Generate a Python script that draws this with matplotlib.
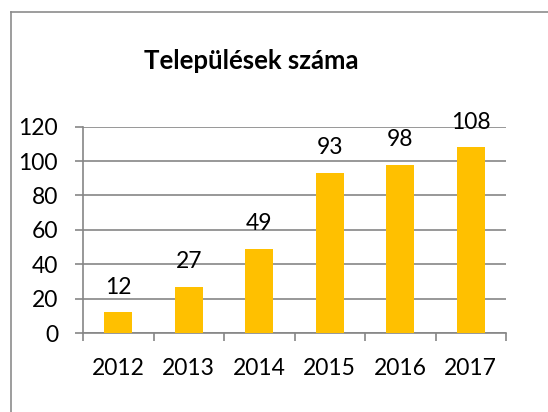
import numpy as np
import matplotlib.pyplot as plt
from matplotlib.lines import Line2D

years = ['2012', '2013', '2014', '2015', '2016', '2017']
values = [12, 27, 49, 93, 98, 108]
title = 'Települések száma'

plt.rcParams['font.family'] = ['Lato', 'DejaVu Sans']

fig = plt.figure(figsize=(5.48, 4.12), dpi=100)
ax = fig.add_axes([0.1515, 0.1917, 0.9234 - 0.1515, 0.6925 - 0.1917])

grid_c = '#868686'
x = np.arange(len(years))
bars = ax.bar(x, values, width=0.4, color='#FFC000', zorder=3)

for xi, v in zip(x, values):
    ax.annotate(str(v), (xi, v), xytext=(0, 13.5), textcoords='offset points',
                ha='center', va='baseline', fontsize=16.5, color='black')

ax.set_xlim(-0.5, len(years) - 0.5)
ax.set_ylim(0, 120)
ax.set_yticks(np.arange(0, 121, 20))
ax.yaxis.grid(True, color=grid_c, lw=1.2, zorder=0)
ax.set_axisbelow(True)

ax.set_xticks(x)
ax.set_xticklabels(years)
ax.set_xticks(np.arange(-0.5, len(years)), minor=True)
ax.tick_params(axis='x', which='major', length=0, pad=18, labelsize=16.5)
ax.tick_params(axis='x', which='minor', length=6, width=1.2, color=grid_c, direction='out')
ax.tick_params(axis='y', length=6, width=1.2, color=grid_c, pad=12, labelsize=16.5)

for s in ['top', 'right']:
    ax.spines[s].set_visible(False)
for s in ['left', 'bottom']:
    ax.spines[s].set_color(grid_c)
    ax.spines[s].set_linewidth(1.2)

fig.text(251 / 548, 1 - 61 / 412, title, ha='center', va='center',
         fontsize=18.5, fontweight='bold')

# chart frame
bx, by = 11 / 548, 1 - 12 / 412
fig.add_artist(Line2D([bx, 1], [by, by], color='#8c8c8c', lw=1.2))
fig.add_artist(Line2D([bx, bx], [0, by], color='#8c8c8c', lw=1.2))

fig.savefig('out.png', dpi=100)
